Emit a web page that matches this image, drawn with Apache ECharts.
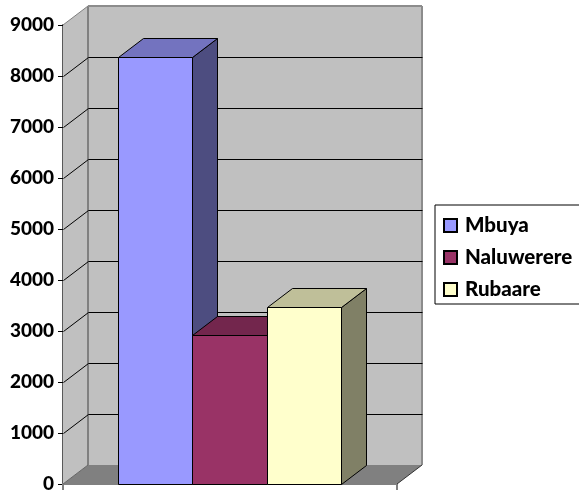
<!DOCTYPE html>
<html>
<head>
<meta charset="utf-8">
<style>html,body{margin:0;padding:0;background:#fff;overflow:hidden}#c{width:579px;height:495px}</style>
<script src="https://cdn.jsdelivr.net/npm/echarts@6/dist/echarts.min.js"></script>
</head>
<body>
<div id="c"></div>
<script>
// Project sites and their totals
const categories = [''];
const seriesNames = ['Mbuya', 'Naluwerere', 'Rubaare'];
const mbuya = [8370];
const naluwerere = [2930];
const rubaare = [3480];
const tickValues = [0, 1000, 2000, 3000, 4000, 5000, 6000, 7000, 8000, 9000];

// Oblique offset of the depth direction, in pixels
const DX = 25, DY = -19;
const FONT = 'Lato';

const frontColors = ['#9999ff', '#993366', '#ffffcc'];
const topColors = ['#7373bf', '#73264d', '#bfbf99'];
const sideColors = ['#4d4d80', '#4d1a33', '#808066'];

const chart = echarts.init(document.getElementById('c'), null, { renderer: 'canvas' });

// Snap to the pixel grid so one-pixel outlines stay crisp
const snap = (n) => Math.round(n) + 0.5;
const snapPt = (p) => [snap(p[0]), snap(p[1])];
const snapBar = (p) => [Math.floor(p[0]) + 0.5, snap(p[1])];

const poly = (points, fill, stroke, lineWidth) => ({
  type: 'polygon',
  shape: { points },
  style: { fill, stroke: stroke || null, lineWidth: lineWidth || 0 }
});
const seg = (a, b, stroke, lineWidth) => ({
  type: 'line',
  shape: { x1: a[0], y1: a[1], x2: b[0], y2: b[1] },
  style: { stroke, lineWidth: lineWidth || 1 }
});
const back = (p) => [p[0] + DX, p[1] + DY];

// Walls and floor behind the bars: one item per axis tick draws its gridline
function renderWalls(params, api) {
  const v = api.value(0);
  const cs = params.coordSys;
  const xl = cs.x, xr = cs.x + cs.width;
  const y = api.coord([0, v])[1];
  const left = snapPt([xl, y]), right = snapPt([xr, y]);
  const children = [];
  if (params.dataIndex === 0) {
    const yTop = api.coord([0, tickValues[tickValues.length - 1]])[1];
    const bl = [xl, y], br = [xr, y], tl = [xl, yTop], tr = [xr, yTop];
    children.push(poly([tl, bl, back(bl), back(tl)], '#c0c0c0'));
    children.push(poly([back(tl), back(bl), back(br), back(tr)], '#c0c0c0'));
    children.push(poly([bl, br, back(br), back(bl)], '#808080'));
    children.push(seg(back(tl), back(bl), '#808080', 2));
    children.push(seg(back(tl), back(tr), '#8c8c8c', 2));
    children.push(seg(back(tr), back(br), '#8c8c8c', 2));
    children.push(seg(tl, back(tl), '#808080', 1));
    children.push(seg(bl, back(bl), '#666666', 1));
    children.push(seg(br, back(br), '#333333', 1));
  } else if (v < tickValues[tickValues.length - 1]) {
    children.push(seg(left, back(left), '#000000', 1));
    children.push(seg(back(left), back(right), '#000000', 1));
  }
  return { type: 'group', children };
}

// One oblique bar per series, placed side by side inside the category band
function makeBarRenderer(index) {
  return function (params, api) {
    const band = api.size([1, 0])[0];
    const barWidth = band * 0.2216;
    const base = api.coord([0, 0]);
    const topPoint = api.coord([0, api.value(1)]);
    const x0 = base[0] + (index - 1.5) * barWidth;
    const x1 = x0 + barWidth;
    const a = snapBar([x0, topPoint[1]]), b = snapBar([x1, topPoint[1]]);
    const c = snapBar([x1, base[1]]), d = snapBar([x0, base[1]]);
    const edge = '#000000';
    return {
      type: 'group',
      children: [
        poly([b, back(b), back(c), c], sideColors[index], edge, 1),
        poly([a, back(a), back(b), b], topColors[index], edge, 1),
        poly([a, b, c, d], frontColors[index], edge, 1)
      ]
    };
  };
}

const barSeries = [mbuya, naluwerere, rubaare].map((values, i) => ({
  name: seriesNames[i],
  type: 'custom',
  renderItem: makeBarRenderer(i),
  encode: { x: 0, y: 1 },
  itemStyle: { color: frontColors[i], borderColor: '#000', borderWidth: 1 },
  data: values.map((v, k) => [k, v]),
  clip: false,
  z: 5 + i,
  silent: true
}));

chart.setOption({
  animation: false,
  backgroundColor: '#ffffff',
  grid: { left: 63, top: 25, width: 334, height: 459, containLabel: false },
  legend: {
    data: seriesNames,
    orient: 'vertical',
    left: 435,
    top: 205,
    padding: [10, 30, 4, 8],
    itemGap: 11,
    itemWidth: 13,
    itemHeight: 13,
    icon: 'rect',
    borderColor: '#000000',
    borderWidth: 1,
    backgroundColor: '#ffffff',
    selectedMode: false,
    textStyle: { fontFamily: FONT, fontWeight: 900, fontSize: 20.5, lineHeight: 20, color: '#000', padding: [0, 0, 0, 3] }
  },
  xAxis: {
    type: 'category',
    data: categories,
    boundaryGap: true,
    axisLine: { show: true, onZero: false, lineStyle: { color: '#808080', width: 2 } },
    axisTick: { show: true, alignWithLabel: false, length: 6, lineStyle: { color: '#808080', width: 2 } },
    axisLabel: { show: false },
    splitLine: { show: false }
  },
  yAxis: {
    type: 'value',
    min: 0,
    max: 9000,
    interval: 1000,
    axisLine: { show: true, lineStyle: { color: '#595959', width: 2 } },
    axisTick: { show: true, length: 5, lineStyle: { color: '#000000', width: 1 } },
    axisLabel: {
      fontFamily: FONT, fontWeight: 900, fontSize: 19, color: '#000', margin: 9,
      padding: [4, 0, 0, 0],
      formatter: (v) => String(v)
    },
    splitLine: { show: false }
  },
  series: [{
    name: 'walls',
    type: 'custom',
    renderItem: renderWalls,
    encode: { y: 0 },
    data: tickValues.map(v => [v]),
    clip: false,
    z: 1,
    silent: true
  }].concat(barSeries)
});
</script>
</body>
</html>
